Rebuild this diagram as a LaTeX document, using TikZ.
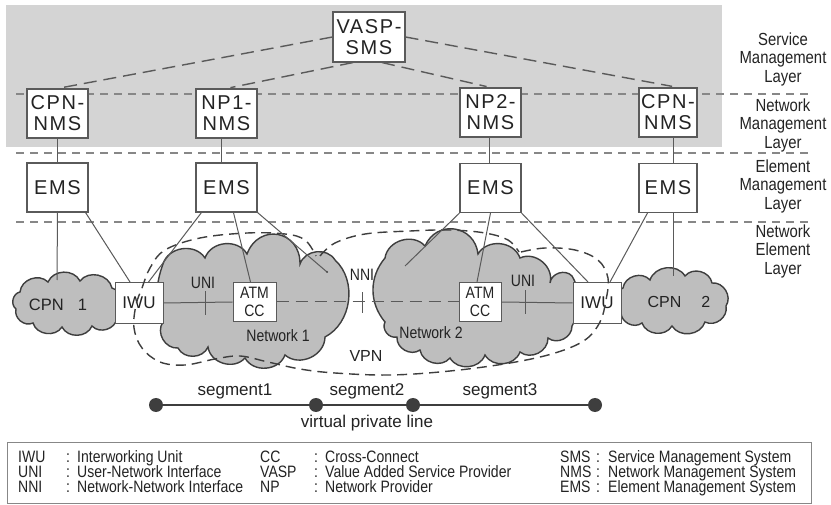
\documentclass[tikz,border=0pt]{standalone}
\usepackage{fontspec}
\setmainfont{Liberation Sans}
\newfontfamily\boxfont[LetterSpace=8]{Liberation Sans}
\newfontfamily\narrowfont[FakeStretch=0.85]{Liberation Sans}
\definecolor{bandgray}{RGB}{212,212,212}
\definecolor{cloudgray}{RGB}{190,190,190}
\definecolor{inkgray}{RGB}{62,62,62}
\definecolor{linegray}{RGB}{90,90,90}
\definecolor{dashgray}{RGB}{135,135,135}
\definecolor{textgray}{RGB}{35,35,35}
\tikzset{
  mgmt/.style={draw=linegray, line width=1.1pt, fill=white, minimum width=61pt,
    minimum height=49pt, inner sep=0pt, align=center, text=textgray,
    font=\boxfont\fontsize{20}{21}\selectfont},
  layerline/.style={dashgray, line width=1.2pt, dash pattern=on 8pt off 6pt},
  mgmtlink/.style={linegray, line width=1.4pt, dash pattern=on 13pt off 7pt},
  wire/.style={linegray, line width=1pt},
  elem/.style={draw=linegray, line width=1pt, fill=white, inner sep=0pt, align=center,
    text=textgray},
  cloudshape/.style={fill=cloudgray, draw=inkgray, line width=1.4pt},
  vpnline/.style={inkgray, line width=1.4pt, dash pattern=on 10pt off 6pt},
  nlabel/.style={text=textgray, inner sep=0pt, font=\narrowfont\fontsize{16.5}{18}\selectfont},
  plabel/.style={text=textgray, inner sep=0pt, font=\fontsize{17}{19}\selectfont},
  layertext/.style={text=textgray, inner sep=0pt, align=center,
    font=\narrowfont\fontsize{17.5}{18.5}\selectfont},
  legendtext/.style={text=textgray, inner sep=0pt, anchor=base west,
    font=\narrowfont\fontsize{16.5}{18}\selectfont},
  segdot/.style={circle, fill=inkgray, minimum size=14pt, inner sep=0pt},
  bump/.style={bend left=65, looseness=1.1}
}
\begin{document}
\begin{tikzpicture}[x=1pt,y=-1pt]
\useasboundingbox (0,0) rectangle (831,505);
\fill[white] (0,0) rectangle (831,505);

% shaded management band
\fill[bandgray] (6,5) rectangle (722,147);

% layer boundaries
\draw[layerline] (16,94) -- (810,94);
\draw[layerline] (16,153) -- (810,153);
\draw[layerline] (16,222) -- (810,222);

% layer names
\node[layertext] (sml) at (783,59) {Service\\Management\\Layer};
\node[layertext] (nml) at (783,125) {Network\\Management\\Layer};
\node[layertext] (eml) at (783,186) {Element\\Management\\Layer};
\node[layertext] (nel) at (783,251) {Network\\Element\\Layer};

% management systems
\node[mgmt, minimum width=72pt, minimum height=50pt] (vasp) at (369,37) {VASP-\\SMS};
\node[mgmt] (cpnL) at (57.5,113.5) {CPN-\\NMS};
\node[mgmt] (np1) at (226.5,113.5) {NP1-\\NMS};
\node[mgmt] (np2) at (490.5,112.5) {NP2-\\NMS};
\node[mgmt, minimum width=58pt] (cpnR) at (668,112.5) {CPN-\\NMS};
\node[mgmt] (emsA) at (57.5,187.5) {EMS};
\node[mgmt] (emsB) at (226.5,187.5) {EMS};
\node[mgmt] (emsC) at (490.5,188) {EMS};
\node[mgmt, minimum width=58pt] (emsD) at (668,188) {EMS};

\draw[mgmtlink, shorten >=6pt] (vasp.west) -- (cpnL.north);
\draw[mgmtlink, shorten >=4pt] ([xshift=-16pt]vasp.south) -- (np1.north);
\draw[mgmtlink, shorten >=4pt] ([xshift=13pt]vasp.south) -- (np2.north);
\draw[mgmtlink, shorten >=6pt] (vasp.east) -- ([xshift=10pt]cpnR.north);

\draw[wire] (cpnL.south) -- (emsA.north);
\draw[wire] ([xshift=-5pt]np1.south) -- ([xshift=-5pt]emsB.north);
\draw[wire] ([xshift=-1pt]np2.south) -- ([xshift=-1pt]emsC.north);
\draw[wire] ([xshift=5pt]cpnR.south) -- ([xshift=5pt]emsD.north);

% customer premises networks
\fill[cloudshape] (20,292) to[bump] (48,282) to[bump] (80,281) to[bump] (112,288)
  to[bump] (117,318) to[bump] (92,326) to[bump] (62,327) to[bump] (33,323)
  to[bump] (16,309) to[bump] (20,292) -- cycle;
\fill[cloudshape] (623,288) to[bump] (650,280) to[bump] (685,276) to[bump] (712,283)
  to[bump] (726,306) to[bump] (705,322) to[bump] (672,326) to[bump] (642,323)
  to[bump] (621,312) to[bump] (623,288) -- cycle;

% provider networks
\fill[cloudshape] (163,264) to[bump] (205,258) to[bump] (247,254)
  to[bend left=80, looseness=1.6] (300,264) to[bump] (335,260)
  to[bend left=55] (325,337) to[bump] (285,355) to[bump] (245,358)
  to[bump] (208,347) to[bump] (178,348) to[bump] (163,322)
  to[bend left=20] (163,264) -- cycle;
\fill[cloudshape] (385,258) to[bump] (425,246) to[bend left=75, looseness=1.4] (478,254)
  to[bump] (520,258) to[bump] (550,283) to[bump] (572,276)
  to[bend left=30] (572,326) to[bump] (548,338) to[bump] (520,352)
  to[bump] (485,355) to[bump] (450,358) to[bump] (420,350) to[bump] (397,337)
  to[bump] (385,322) to[bend left=40] (385,258) -- cycle;

% attachment points inside the clouds
\coordinate (cpn1top) at (57,280);
\coordinate (cpn2top) at (673,276);
\coordinate (n1edge) at (327,272);
\coordinate (n2edge) at (405,266);

% network elements
\node[elem, minimum width=48pt, minimum height=41pt, font=\fontsize{17}{18}\selectfont] (iwu1) at (139,303) {IWU};
\node[elem, minimum width=48pt, minimum height=41pt, font=\fontsize{17}{18}\selectfont] (iwu2) at (597,303) {IWU};
\node[elem, minimum width=43pt, minimum height=39pt, font=\narrowfont\fontsize{16.5}{18}\selectfont] (atm1) at (254.5,302) {ATM\\CC};
\node[elem, minimum width=42pt, minimum height=39pt, font=\narrowfont\fontsize{16.5}{18}\selectfont] (atm2) at (480,302) {ATM\\CC};

% virtual private network boundary
\draw[vpnline] plot[smooth, tension=0.6] coordinates {(320,256) (335,243) (365,234)
  (410,231) (450,230) (485,233) (508,240) (519,252)};
\draw[vpnline] plot[smooth, tension=0.6] coordinates {(521,252) (545,248) (575,250)
  (598,260) (608,278) (606,300) (600,322) (585,340) (555,353) (510,363) (450,371)
  (390,375) (335,373) (300,369) (268,362) (240,356) (215,359) (185,365) (160,362)
  (142,348) (134,328) (136,305) (142,288) (150,268) (165,250) (200,238) (247,233)
  (285,234) (305,240) (316,256)};

% element management links
\draw[wire] (emsA.south) -- (cpn1top);
\draw[wire] ([xshift=-3pt]emsA.south east) -- ([xshift=-9pt]iwu1.north);
\draw[wire] ([xshift=6pt]emsB.south west) -- ([xshift=-15pt]iwu1.north east);
\draw[wire] ([xshift=7pt]emsB.south) -- ([xshift=-4pt]atm1.north);
\draw[wire] (emsB.south east) -- (n1edge);
\draw[wire] (emsC.south west) -- (n2edge);
\draw[wire] (emsC.south) -- ([xshift=-3pt]atm2.north);
\draw[wire] (emsC.south east) -- ([xshift=-9pt]iwu2.north);
\draw[wire] ([xshift=9pt]emsD.south west) -- ([xshift=13pt]iwu2.north);
\draw[wire] ([xshift=5pt]emsD.south) -- (cpn2top);
\fill[inkgray] (n1edge) circle (1pt);

% user/network interfaces along the connection
\draw[wire] (iwu1.east) -- (atm1.west);
\draw[wire, dash pattern=on 12pt off 7pt] (atm1.east) -- (atm2.west);
\draw[wire] (atm2.east) -- (iwu2.west);
\coordinate (uni1) at (205,303);
\coordinate (nni) at (362,303);
\coordinate (uni2) at (525,303);
\draw[wire] ([yshift=-12pt]uni1) -- ([yshift=12pt]uni1);
\draw[wire] ([yshift=-10pt]nni) -- ([yshift=11pt]nni);
\draw[wire] ([yshift=-11pt]uni2) -- ([yshift=13pt]uni2);

\node[nlabel] (uniA) at (203,283) {UNI};
\node[nlabel] (nniA) at (362,275) {NNI};
\node[nlabel] (uniB) at (523,281) {UNI};
\node[nlabel] (net1) at (278,336) {Network 1};
\node[nlabel] (net2) at (431,333) {Network 2};
\node[plabel, font=\fontsize{16}{18}\selectfont] (vpn) at (366,356) {VPN};
\node[plabel, font=\fontsize{16.5}{18}\selectfont] (cpn1) at (58,305) {CPN\hspace{14pt}1};
\node[plabel, font=\fontsize{16}{18}\selectfont] (cpn2) at (679,302) {CPN\hspace{20pt}2};

% virtual private line segments
\node[segdot] (d1) at (156,405) {};
\node[segdot] (d2) at (316,405) {};
\node[segdot] (d3) at (413,405) {};
\node[segdot] (d4) at (595,405) {};
\draw[inkgray, line width=2pt] (d1) -- (d2) -- (d3) -- (d4);
\node[plabel] (s1) at (235,391) {segment1};
\node[plabel] (s2) at (367,391) {segment2};
\node[plabel] (s3) at (500,391) {segment3};
\node[plabel] (vpl) at (367,423) {virtual private line};

% abbreviations
\node[draw=dashgray, line width=1pt, minimum width=804pt, minimum height=61pt,
  inner sep=0pt, anchor=north west] (legend) at (7,442) {};
\foreach \ab/\ex [count=\r] in {IWU/Interworking Unit, UNI/User-Network Interface,
    NNI/Network-Network Interface} {
  \node[legendtext] at (18,447+15*\r) {\ab};
  \node[legendtext] at (66,447+15*\r) {:};
  \node[legendtext] at (77,447+15*\r) {\ex};
}
\foreach \ab/\ex [count=\r] in {CC/Cross-Connect, VASP/Value Added Service Provider,
    NP/Network Provider} {
  \node[legendtext] at (260,447+15*\r) {\ab};
  \node[legendtext] at (314,447+15*\r) {:};
  \node[legendtext] at (325,447+15*\r) {\ex};
}
\foreach \ab/\ex [count=\r] in {SMS/Service Management System,
    NMS/Network Management System, EMS/Element Management System} {
  \node[legendtext] at (560,447+15*\r) {\ab};
  \node[legendtext] at (596,447+15*\r) {:};
  \node[legendtext] at (608,447+15*\r) {\ex};
}
\end{tikzpicture}
\end{document}
